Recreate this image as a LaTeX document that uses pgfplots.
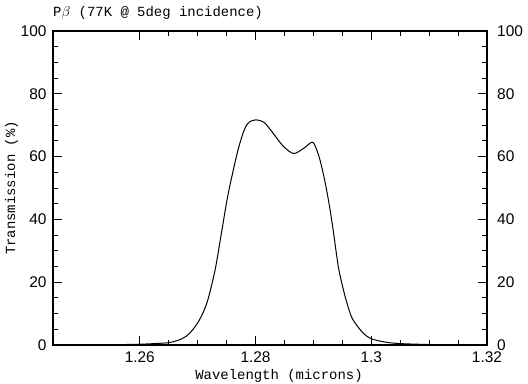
\documentclass[border=0pt]{standalone}
\usepackage{pgfplots}
\pgfplotsset{compat=1.18}
\usepackage{fontspec}
\setmainfont{Liberation Sans}
\newfontfamily\monofont{Liberation Mono}
\begin{document}
\begin{tikzpicture}
\pgfplotsset{common/.style={
  scale only axis, width=434bp, height=314bp,
  xmin=1.245, xmax=1.32, ymin=0, ymax=100,
  ytick={0,20,40,60,80,100}, minor y tick num=3,
  /pgf/number format/assume math mode=true,
  ticklabel style={font=\fontsize{15.5}{17}\selectfont},
  major tick length=9bp, minor tick length=5bp,
}}
\begin{axis}[common,
  xtick={1.26,1.28,1.30,1.32}, xticklabels={1.26,1.28,1.3,1.32},
  minor x tick num=3,
  axis line style={line width=1.2pt},
  every tick/.style={black, line width=1pt},
  xtick pos=both, ytick pos=both,
  xticklabel pos=bottom, yticklabel pos=left,
  xticklabel style={yshift=-5.5bp, inner sep=1pt},
  yticklabel style={xshift=-3bp},
  xlabel={Wavelength (microns)},
  xlabel style={font=\monofont\fontsize{14}{16}\selectfont, at={([xshift=9bp,yshift=-34bp]rel axis cs:0.5,0)}, anchor=base, inner sep=0pt},
  ylabel={Transmission (\%)},
  ylabel style={font=\monofont\fontsize{14}{16}\selectfont, at={([xshift=-38bp]rel axis cs:0,0.5)}, anchor=base, inner sep=0pt},
  title={P$\beta$ (77K @ 5deg incidence)},
  title style={font=\monofont\fontsize{14}{16}\selectfont, at={([yshift=9bp]rel axis cs:0,1)}, anchor=base west, inner sep=0pt},
]
\addplot[black, line width=1pt, smooth] coordinates {
(1.245,0) (1.250,0.02) (1.255,0.08) (1.260,0.25) (1.2625,0.45) (1.2652,0.8)
(1.2673,2.0) (1.2687,3.9) (1.27025,7.8) (1.27163,13.6) (1.27301,23.9) (1.27405,35)
(1.27526,48) (1.27682,61) (1.27785,67.5) (1.27855,70.3) (1.27907,71.2) (1.2801,71.7) (1.2814,71.0)
(1.2826,68.5) (1.2848,63.3) (1.2866,61.0) (1.2883,62.6) (1.28979,64.6) (1.2905,62.5)
(1.2912,58.5) (1.2920,52) (1.2928,44) (1.2935,35.5) (1.2943,25) (1.2950,19)
(1.2957,14) (1.2967,8.5) (1.2985,4.0)
(1.3000,2.0) (1.3025,0.9) (1.305,0.45) (1.310,0.15) (1.315,0.05) (1.32,0.02)
};
\end{axis}
\begin{axis}[common,
  xtick=\empty, axis line style={draw=none},
  ytick style={draw=none}, minor y tick num=0,
  yticklabel pos=right,
  yticklabel style={xshift=9.5bp, inner sep=0.5pt},
]
\end{axis}
\pgfresetboundingbox
\path[use as bounding box] (-53bp,-39bp) rectangle (475bp,345bp);
\end{tikzpicture}
\end{document}
